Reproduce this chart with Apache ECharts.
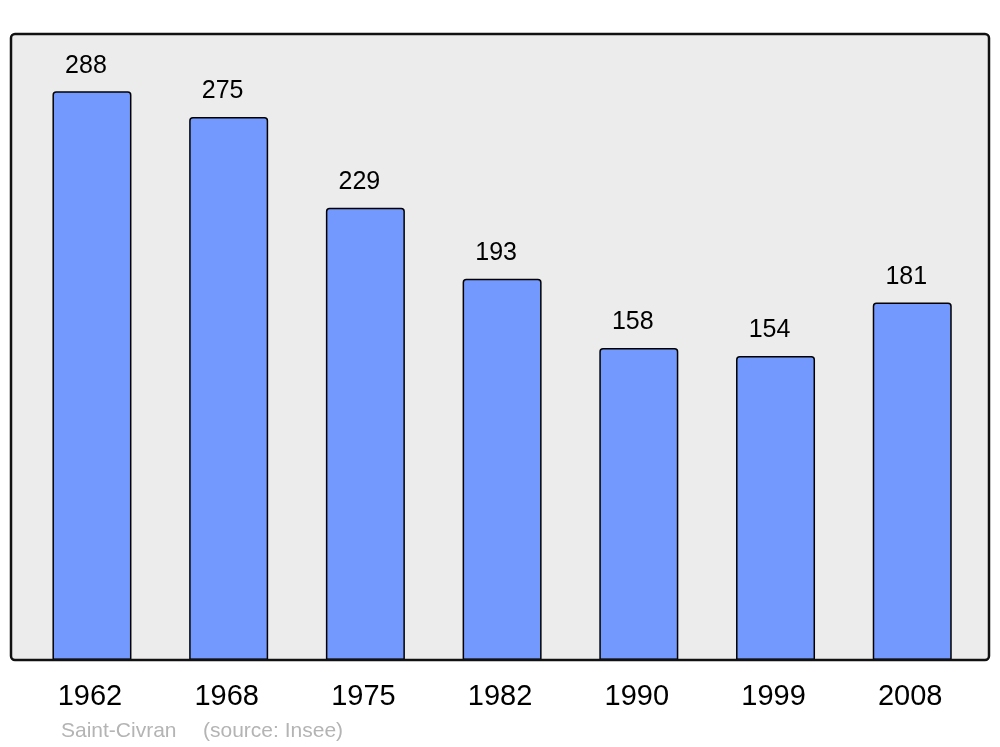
<!DOCTYPE html>
<html>
<head>
<meta charset="utf-8">
<script src="https://cdn.jsdelivr.net/npm/echarts@6/dist/echarts.min.js"></script>
<style>html,body{margin:0;padding:0;background:#fff}#c{width:1000px;height:747px}</style>
</head>
<body>
<div id="c"></div>
<script>
const years = ['1962', '1968', '1975', '1982', '1990', '1999', '2008'];
const population = [288, 275, 229, 193, 158, 154, 181];
const placeName = 'Saint-Civran';
const sourceNote = '(source: Insee)';

const FONT = '"Liberation Sans", Arial, sans-serif';
const chart = echarts.init(document.getElementById('c'), null, {renderer: 'canvas'});
chart.setOption({
  animation: false,
  backgroundColor: '#ffffff',
  textStyle: {fontFamily: FONT},
  grid: {left: 23.6, width: 957, top: 34, height: 626},
  xAxis: {
    type: 'category',
    data: years,
    axisLine: {show: false},
    axisTick: {show: false},
    axisLabel: {fontSize: 29, color: '#000', margin: 22, padding: [0, 4, 0, 0], fontFamily: FONT}
  },
  yAxis: {type: 'value', min: 0, max: 317, show: false, splitLine: {show: false}},
  graphic: [
    {type: 'rect', z: -10, shape: {x: 11, y: 34, width: 978, height: 626, r: 4},
     style: {fill: '#ececec', stroke: null}},
    {type: 'rect', z: 100, shape: {x: 11, y: 34, width: 978, height: 626, r: 4},
     style: {fill: null, stroke: '#111', lineWidth: 2.5}},
    {type: 'text', left: 61, top: 721, z: 100,
     style: {text: placeName, fontSize: 21, fill: '#b4b4b4', fontFamily: FONT}},
    {type: 'text', left: 203, top: 721, z: 100,
     style: {text: sourceNote, fontSize: 21, fill: '#b4b4b4', fontFamily: FONT}}
  ],
  series: [{
    type: 'bar',
    data: population,
    barWidth: 79,
    itemStyle: {color: '#7399ff', borderColor: '#000', borderWidth: 1.5, borderRadius: [3, 3, 0, 0]},
    label: {
      show: true, position: 'top', distance: 13, offset: [-6, 0],
      fontSize: 25, color: '#000', fontFamily: FONT
    }
  }]
});
</script>
</body>
</html>
